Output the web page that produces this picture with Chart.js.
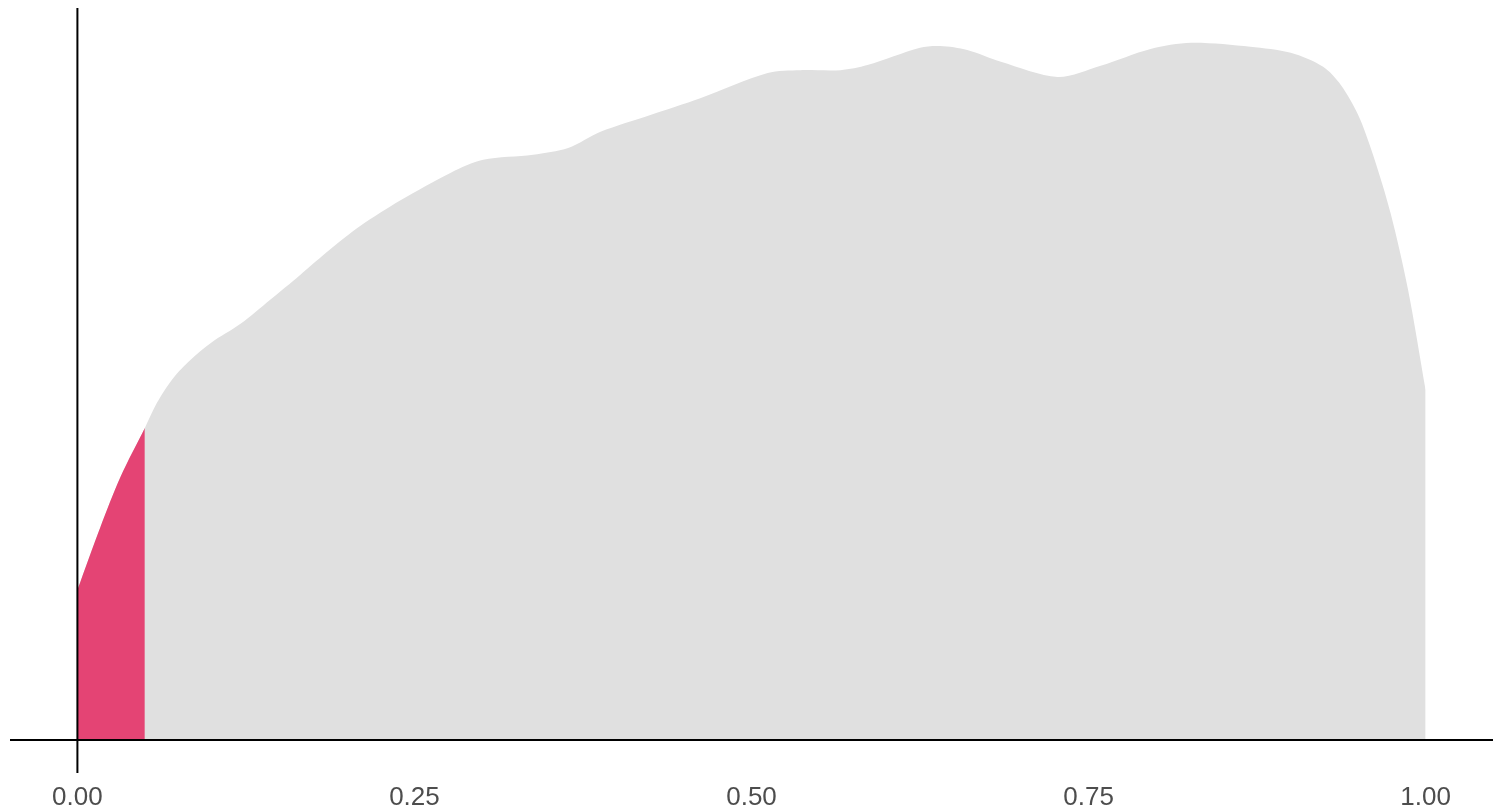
<!DOCTYPE html>
<html>
<head>
<meta charset="utf-8">
<title>Density</title>
<script src="https://cdn.jsdelivr.net/npm/chart.js@4/dist/chart.umd.min.js"></script>
<style>
    html, body { margin: 0; padding: 0; background: #ffffff; }
    #wrap { width: 1495px; height: 810px; position: relative; }
</style>
</head>
<body>
<div id="wrap"><canvas id="densityChart"></canvas></div>
<script>
// Density estimate (x in [0, 1])
const densX = [0, 0.017, 0.032, 0.05, 0.059, 0.071, 0.084, 0.099, 0.121, 0.143, 0.165, 0.188,
    0.210, 0.240, 0.277, 0.301, 0.338, 0.364, 0.388, 0.425, 0.462, 0.512, 0.536, 0.566,
    0.586, 0.625, 0.640, 0.660, 0.685, 0.727, 0.759, 0.796, 0.826, 0.870, 0.900, 0.924,
    0.937, 0.950, 0.961, 0.974, 0.987, 1.0];
const densY = [0.268, 0.380, 0.470, 0.557, 0.602, 0.646, 0.679, 0.709, 0.743, 0.786, 0.830, 0.877,
    0.918, 0.964, 1.013, 1.036, 1.045, 1.057, 1.086, 1.116, 1.146, 1.191, 1.196, 1.196,
    1.205, 1.236, 1.239, 1.232, 1.211, 1.184, 1.204, 1.234, 1.245, 1.238, 1.227, 1.202,
    1.170, 1.116, 1.045, 0.941, 0.804, 0.625];

// Highlighted lower tail (x <= 0.05)
const tailX = [0, 0.017, 0.032, 0.05];
const tailY = [0.268, 0.380, 0.470, 0.557];

// Reference lines and axis ticks
const xRange = [-0.05, 1.05];
const yRange = [-0.059, 1.307];
const xTicks = [0, 0.25, 0.5, 0.75, 1];

const pts = (xs, ys) => xs.map((x, i) => ({ x: x, y: ys[i] }));

function createDensityChart() {
    const ctx = document.getElementById('densityChart').getContext('2d');

    new Chart(ctx, {
        type: 'line',
        data: {
            datasets: [
                {
                    // vertical line at x = 0
                    data: pts([0, 0], yRange),
                    borderColor: '#000000',
                    borderWidth: 2,
                    pointRadius: 0,
                    tension: 0,
                    fill: false
                },
                {
                    // horizontal line at y = 0
                    data: pts(xRange, [0, 0]),
                    borderColor: '#000000',
                    borderWidth: 2,
                    pointRadius: 0,
                    tension: 0,
                    fill: false
                },
                {
                    data: pts(tailX, tailY),
                    borderWidth: 0,
                    borderColor: 'rgba(0,0,0,0)',
                    backgroundColor: '#E44474',
                    pointRadius: 0,
                    tension: 0.3,
                    fill: 'origin'
                },
                {
                    data: pts(densX, densY),
                    borderWidth: 0,
                    borderColor: 'rgba(0,0,0,0)',
                    backgroundColor: '#E0E0E0',
                    pointRadius: 0,
                    tension: 0.3,
                    fill: 'origin'
                }
            ]
        },
        options: {
            responsive: true,
            maintainAspectRatio: false,
            animation: false,
            layout: { padding: { left: 10, right: 2, top: 8, bottom: 0 } },
            plugins: {
                legend: { display: false },
                tooltip: { enabled: false }
            },
            scales: {
                x: {
                    type: 'linear',
                    min: xRange[0],
                    max: xRange[1],
                    border: { display: false },
                    grid: { display: false, drawTicks: false },
                    afterBuildTicks: (axis) => {
                        axis.ticks = xTicks.map(v => ({ value: v }));
                    },
                    afterFit: (axis) => { axis.height = 37; },
                    ticks: {
                        color: '#4D4D4D',
                        padding: 9,
                        maxRotation: 0,
                        autoSkip: false,
                        font: { family: '"Liberation Sans", Arial, sans-serif', size: 26 },
                        callback: (v) => Number(v).toFixed(2)
                    }
                },
                y: {
                    display: false,
                    min: yRange[0],
                    max: yRange[1]
                }
            }
        }
    });
}

createDensityChart();
</script>
</body>
</html>
